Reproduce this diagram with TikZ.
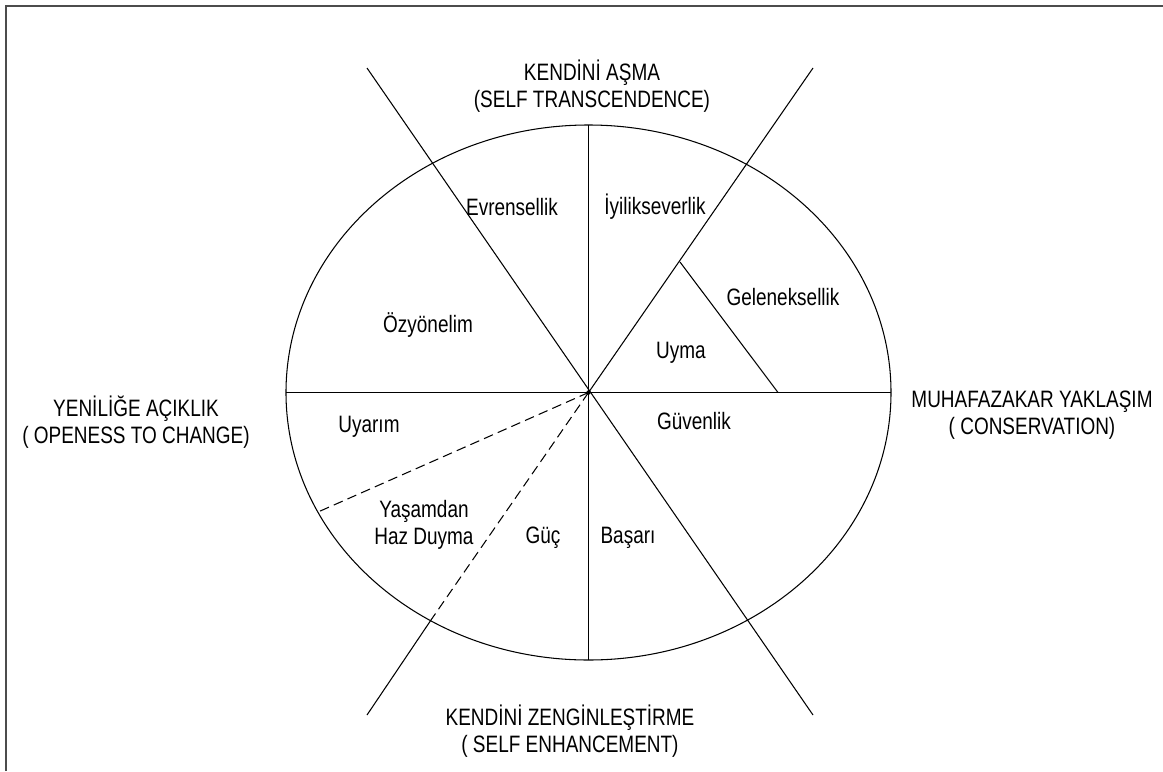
\documentclass[tikz,border=0pt]{standalone}
\usepackage{fontspec}
\setmainfont{Liberation Sans}[FakeStretch=0.8]
\definecolor{FrameClr}{rgb}{0.3,0.3,0.3}

\begin{document}
\begin{tikzpicture}[x=0.02cm,y=-0.02cm,
  lbl/.style={font=\fontsize{13.5}{15.5}\selectfont,inner sep=0pt,align=center},
  axisline/.style={line width=1pt},
  thinline/.style={line width=0.6pt},
  dashline/.style={line width=0.6pt,dash pattern=on 5.5pt off 3pt}]
\useasboundingbox (0,0) rectangle (1163,771);
\fill[white] (0,0) rectangle (1163,771);
\draw[FrameClr,line width=1.2pt] (6,771) -- (6,6) -- (1163,6);

\coordinate (O) at (588.5,392.5);
\coordinate (W) at (286,392.5);
\coordinate (E) at (891,392.5);
\coordinate (N) at (588.5,125);
\coordinate (S) at (588.5,660);
\coordinate (NW) at (367,68);
\coordinate (SE) at (813,715);
\coordinate (NE) at (813,68);
\coordinate (SW) at (367,715);
\coordinate (SWcut) at (431,620);
\coordinate (Wcut) at (318,512);
\coordinate (UpA) at (680,262);
\coordinate (UpB) at (778,392.5);

\draw[thinline] (O) ellipse [x radius=302.5,y radius=267.5];
\draw[axisline] (W) -- (E);
\draw[line width=0.8pt] (N) -- (S);
\draw[thinline] (NW) -- (SE);
\draw[thinline] (NE) -- (O);
\draw[dashline] (O) -- (SWcut);
\draw[thinline] (SWcut) -- (SW);
\draw[dashline] (O) -- (Wcut);
\draw[thinline] (UpA) -- (UpB);
\fill (O) circle [radius=2.2];

\node[lbl] (top) at (592,86) {KENDİNİ AŞMA\\(SELF TRANSCENDENCE)};
\node[lbl] (bottom) at (570,731) {KENDİNİ ZENGİNLEŞTİRME\\( SELF ENHANCEMENT)};
\node[lbl] (left) at (136,422) {YENİLİĞE AÇIKLIK\\( OPENESS TO CHANGE)};
\node[lbl] (right) at (1032,415) {MUHAFAZAKAR YAKLAŞIM\\( CONSERVATION)};

\node[lbl] (evr) at (512,207) {Evrensellik};
\node[lbl] (iyi) at (655,207) {İyilikseverlik};
\node[lbl] (gel) at (783,297) {Geleneksellik};
\node[lbl] (uym) at (681,353) {Uyma};
\node[lbl] (ozy) at (428,325) {Özyönelim};
\node[lbl] (uya) at (369,427) {Uyarım};
\node[lbl] (guv) at (694,421) {Güvenlik};
\node[lbl] (yas) at (424,525) {Yaşamdan\\Haz Duyma};
\node[lbl] (guc) at (543,538) {Güç};
\node[lbl] (bas) at (628,538) {Başarı};
\end{tikzpicture}
\end{document}
